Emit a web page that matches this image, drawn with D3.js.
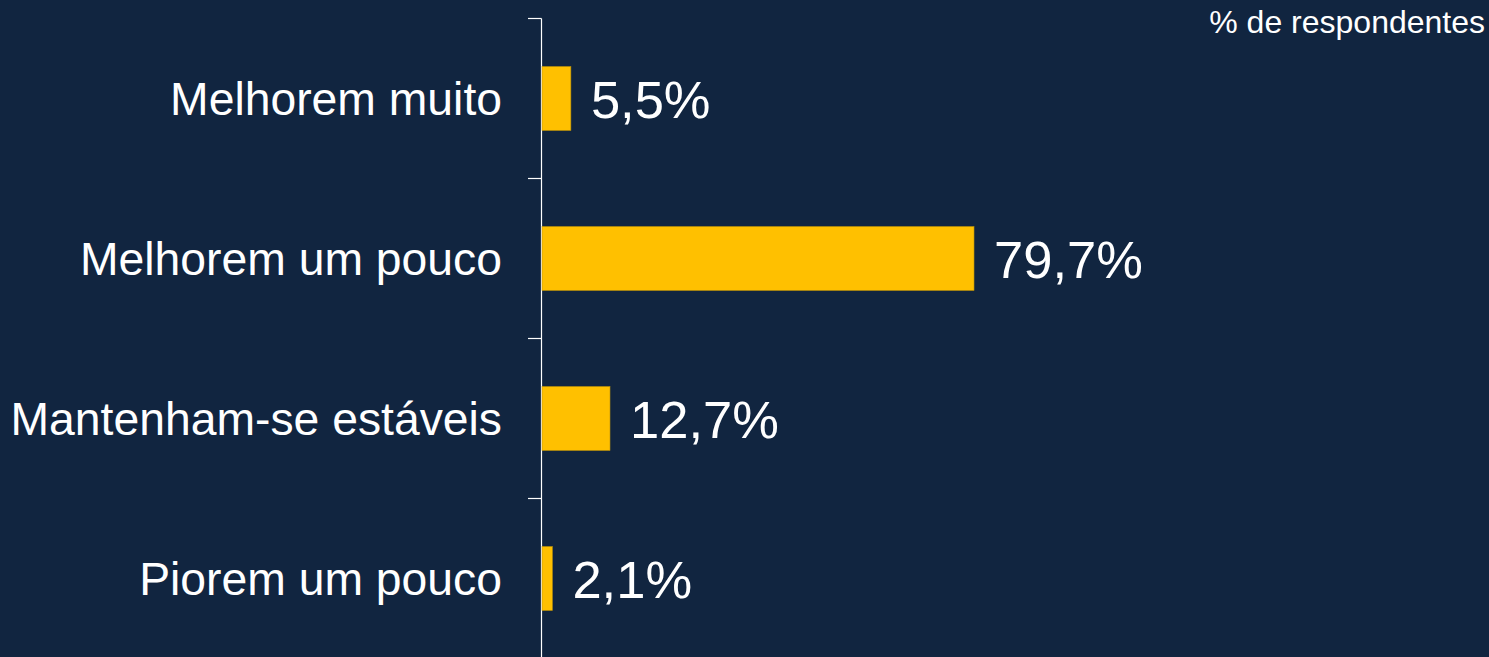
<!DOCTYPE html>
<html>
<head>
<meta charset="utf-8">
<script src="https://cdn.jsdelivr.net/npm/d3@7"></script>
<style>
  html, body { margin: 0; padding: 0; background: #112540; }
  svg { display: block; font-family: Arial, "Liberation Sans", sans-serif; }
</style>
</head>
<body>
<div id="chart"></div>
<script>
// data
const categories = ["Melhorem muito", "Melhorem um pouco", "Mantenham-se estáveis", "Piorem um pouco"];
const values = [5.5, 79.7, 12.7, 2.1];
const valueLabels = ["5,5%", "79,7%", "12,7%", "2,1%"];
const unitLabel = "% de respondentes";

// constants
const w = 1489,
      h = 657,
      x0 = 541,
      yTop = 18.5;

let svg = d3.select("#chart")
            .append("svg")
            .attr("width", w)
            .attr("height", h);

svg.append("rect")
   .attr("width", w)
   .attr("height", h)
   .attr("fill", "#112540");

// scales
let xScale = d3.scaleLinear()
               .domain([0, 100])
               .range([x0, x0 + 543.3]);

let yScale = d3.scaleBand()
               .domain(categories)
               .range([yTop, yTop + 640])
               .paddingInner(0.6)
               .paddingOuter(0.3);

const step = yScale.step();

// axis line + ticks at band boundaries
svg.append("line")
   .attr("x1", x0 + 0.5).attr("x2", x0 + 0.5)
   .attr("y1", yTop).attr("y2", yTop + 640)
   .attr("stroke", "#ffffff")
   .attr("stroke-width", 1.2);

let bounds = d3.range(categories.length + 1).map((i) => yTop + i * step);
svg.selectAll(".tick")
   .data(bounds)
   .enter()
   .append("line")
   .attr("class", "tick")
   .attr("x1", x0 - 13).attr("x2", x0 + 0.5)
   .attr("y1", (d) => d).attr("y2", (d) => d)
   .attr("stroke", "#ffffff")
   .attr("stroke-width", 1.2);

// bars
svg.selectAll(".bar")
   .data(values)
   .enter()
   .append("rect")
   .attr("class", "bar")
   .attr("x", x0 + 1)
   .attr("y", (d, i) => yScale(categories[i]))
   .attr("width", (d) => xScale(d) - x0 - 1)
   .attr("height", yScale.bandwidth())
   .attr("fill", "#FFC000")
   .attr("stroke", "#b8900a")
   .attr("stroke-width", 0.6);

// category labels
svg.selectAll(".cat")
   .data(categories)
   .enter()
   .append("text")
   .attr("class", "cat")
   .attr("x", 502)
   .attr("y", (d) => yScale(d) + yScale.bandwidth() / 2 + 16.5)
   .attr("text-anchor", "end")
   .attr("fill", "#ffffff")
   .style("font-size", "46.3px")
   .text((d) => d);

// value labels
svg.selectAll(".val")
   .data(values)
   .enter()
   .append("text")
   .attr("class", "val")
   .attr("x", (d) => xScale(d) + 20)
   .attr("y", (d, i) => yScale(categories[i]) + yScale.bandwidth() / 2 + 19)
   .attr("fill", "#ffffff")
   .style("font-size", "52.5px")
   .text((d, i) => valueLabels[i]);

// unit label
svg.append("text")
   .attr("x", 1485)
   .attr("y", 33)
   .attr("text-anchor", "end")
   .attr("fill", "#ffffff")
   .style("font-size", "32px")
   .text(unitLabel);
</script>
</body>
</html>
